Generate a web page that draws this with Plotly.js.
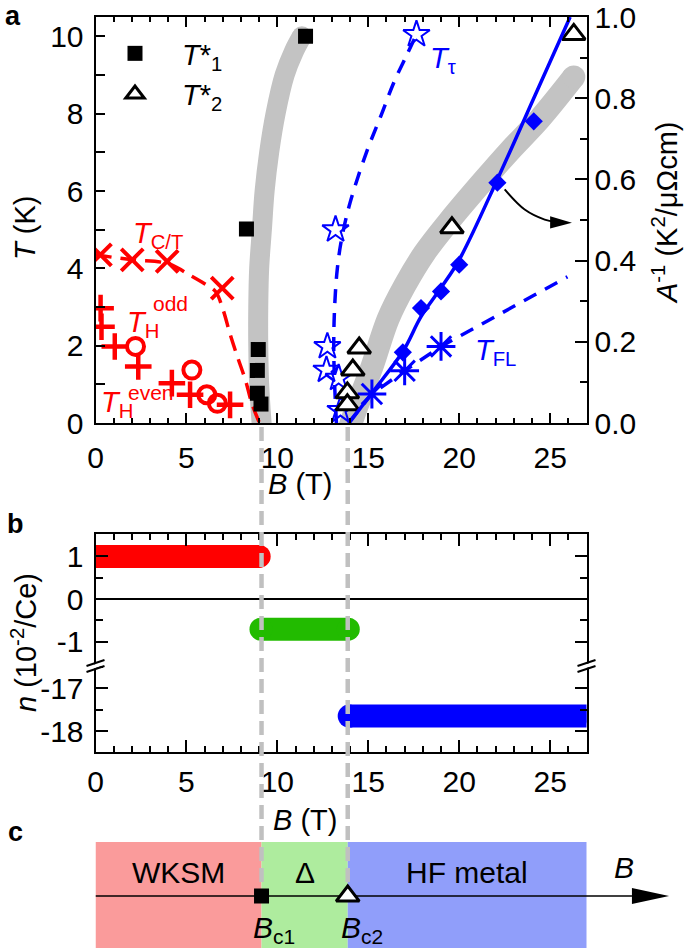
<!DOCTYPE html>
<html><head><meta charset="utf-8">
<script src="https://cdn.plot.ly/plotly-3.0.1.min.js"></script>
<style>html,body{margin:0;padding:0;background:#fff}</style>
</head><body><div id="chart" style="width:685px;height:950px"></div>
<script>
// ---------- DATA ----------
// critical fields (T)
const Bc = [9.13, 13.87];

// panel a : T*1 (squares)
const B_T1 = [11.55, 8.3, 8.95, 8.9, 8.9, 9.1];
const T_T1 = [10.0, 5.02, 1.9, 1.36, 0.77, 0.49];
// panel a : T*2 (open triangles)
const B_T2 = [26.3, 19.6, 14.5, 14.15, 13.85, 13.85];
const T_T2 = [10.05, 5.05, 1.94, 1.37, 0.78, 0.47];
// grey guide bands
const bandT1_B = [9.18, 9.0, 8.95, 8.95, 9.0, 9.15, 9.3, 9.55, 9.9, 10.4, 10.9, 11.35];
const bandT1_T = [-0.3, 1, 2, 3, 4, 5, 6, 7, 8, 9, 9.6, 10.0];
const bandT2_B = [13.85, 14.2, 15.2, 16.1, 17.0, 18.1, 19.5, 21.3, 22.8, 24.4, 26.3];
const bandT2_T = [-0.3, 0.2, 1.45, 2.7, 3.55, 4.4, 5.25, 6.25, 7.05, 7.85, 8.95];
// T_C/T (red x) and dashed guide
const B_CT = [0.27, 2.02, 3.94, 6.97];
const T_CT = [4.35, 4.22, 4.18, 3.49];
const lineCT_B = [0, 2, 4, 5.2, 6.0, 6.6, 7.0, 7.4, 7.8, 8.25, 8.6, 9.0];
const lineCT_T = [4.35, 4.22, 4.12, 3.82, 3.6, 3.4, 2.95, 2.3, 1.72, 1.1, 0.5, 0.02];
// T_H (red + and red o)
const B_Hplus = [0.28, 0.33, 1.06, 2.35, 4.2, 5.2, 7.4];
const T_Hplus = [2.97, 2.49, 1.98, 1.46, 1.03, 0.73, 0.47];
const B_Hcirc = [2.2, 5.3, 6.12, 6.7];
const T_Hcirc = [1.98, 1.37, 0.73, 0.51];
// T_tau (blue stars) and dashed guide
const B_tau = [17.65, 13.2, 12.75, 12.7, 13.37, 13.47];
const T_tau = [10.05, 5.0, 1.98, 1.37, 1.16, 0.33];
const lineTau_B = [13.25, 13.15, 13.1, 13.15, 13.3, 13.55, 14.0, 14.9, 15.7, 16.4, 17.1, 17.55];
const lineTau_T = [0, 1, 2, 3, 4, 4.8, 5.7, 7.0, 7.95, 8.8, 9.5, 9.95];
// T_FL (blue asterisks) and dashed guide
const B_FL = [15.2, 17.0, 19.0];
const T_FL = [0.75, 1.35, 1.98];
const lineFL_B = [13.9, 15.2, 17.0, 19.0, 25.95];
const lineFL_T = [0, 0.75, 1.35, 1.98, 3.78];
// A^-1 (blue diamonds, right axis) and solid guide
const B_A = [16.9, 17.9, 19.0, 20.0, 22.1, 24.1];
const A_inv = [0.174, 0.283, 0.324, 0.39, 0.592, 0.743];
const lineA_B = [13.95, 15.2, 16.9, 17.9, 19.0, 20.0, 22.1, 24.1, 26.1];
const lineA = [0, 0.074, 0.176, 0.262, 0.333, 0.402, 0.6, 0.8, 1.0];
// curved pointer from A^-1 data to right axis
const ptrB = [22.5, 23.6, 24.7, 25.3];
const ptrT = [6.04, 5.52, 5.26, 5.2];
const ptrTip = [26.2, 5.18];

// panel b : carrier density n (10^-2/Ce)
const nWKSM_B = [0, 9.0],  nWKSM = 1.0;
const nDelta_B = [9.1, 13.9], nDelta = -0.71;
const nHF_B = [13.95, 27.5],  nHF = -17.65;

// panel c : phases
const phaseNames = ['WKSM', '\u0394', 'HF metal'];
const phaseEdges = [0, Bc[0], Bc[1], 27];
const phaseColors = ['rgb(250,155,155)', 'rgb(174,236,158)', 'rgb(144,158,250)'];
const arrowEnd = 31.54, arrowBase = 29.5;

// ---------- LAYOUT HELPERS ----------
const W = 685, H = 950;
const px = v => v / W, py = v => 1 - v / H;
const FONT = 'Liberation Sans, Arial, Helvetica, sans-serif';
const GREY = 'rgb(195,195,195)';
const RED = 'rgb(255,0,0)', BLUE = 'rgb(0,0,255)', GREEN = 'rgb(34,187,0)';
const kmPerT = (586.5 - 95.5) / 27;

const traces = [];
function band(xs, ys, w) {
  traces.push({x: xs, y: ys, mode: 'lines', line: {color: GREY, width: w, shape: 'spline'}, showlegend: false, hoverinfo: 'skip'});
  traces.push({x: [xs[0], xs[xs.length-1]], y: [ys[0], ys[ys.length-1]], mode: 'markers',
    marker: {color: GREY, size: w}, showlegend: false, hoverinfo: 'skip'});
}
band(bandT1_B, bandT1_T, 20);
band(bandT2_B, bandT2_T, 23);
traces.push({x: lineCT_B, y: lineCT_T, mode: 'lines', line: {color: RED, width: 3.5, dash: '16px,9px', shape: 'spline'}, showlegend: false});
traces.push({x: B_CT, y: T_CT, mode: 'markers', marker: {symbol: 'x-thin-open', size: 22, color: RED, line: {color: RED, width: 4}}, showlegend: false});
traces.push({x: B_Hplus, y: T_Hplus, mode: 'markers', marker: {symbol: 'cross-thin-open', size: 19, color: RED, line: {color: RED, width: 4.5}}, showlegend: false});
traces.push({x: B_Hcirc, y: T_Hcirc, mode: 'markers', marker: {symbol: 'circle-open', size: 17, color: RED, line: {color: RED, width: 4}}, showlegend: false});
traces.push({x: lineTau_B, y: lineTau_T, mode: 'lines', line: {color: BLUE, width: 3.5, dash: '14px,10px', shape: 'spline'}, showlegend: false});
traces.push({x: B_tau, y: T_tau, mode: 'markers', marker: {symbol: 'star-open', size: 20, color: BLUE, line: {color: BLUE, width: 2}}, showlegend: false});
traces.push({x: lineFL_B, y: lineFL_T, mode: 'lines', line: {color: BLUE, width: 3.5, dash: '14px,10px'}, showlegend: false});
traces.push({x: B_FL, y: T_FL, mode: 'markers', marker: {symbol: 'asterisk-open', size: 24, color: BLUE, line: {color: BLUE, width: 3}}, showlegend: false});
traces.push({x: ptrB, y: ptrT, mode: 'lines', line: {color: 'black', width: 2, shape: 'spline'}, showlegend: false});
traces.push({x: B_T1, y: T_T1, mode: 'markers', name: '<i>T</i>*<sub>1</sub>', legendrank: 1,
  marker: {symbol: 'square', size: 15, color: 'black'}});
traces.push({x: B_T2, y: T_T2, mode: 'markers', name: '<i>T</i>*<sub>2</sub>', legendrank: 2,
  marker: {symbol: 'triangle-up', size: 20, color: 'white', line: {color: 'black', width: 3}}});
traces.push({x: lineA_B, y: lineA, yaxis: 'y5', mode: 'lines', line: {color: BLUE, width: 3.5, shape: 'spline'}, showlegend: false});
traces.push({x: B_A, y: A_inv, yaxis: 'y5', mode: 'markers', marker: {symbol: 'diamond', size: 14, color: BLUE}, showlegend: false});

// panel b bars
function bar(xs, v, col, xa, ya) {
  traces.push({x: xs, y: [v, v], xaxis: xa, yaxis: ya, mode: 'lines+markers',
    line: {color: col, width: 23}, marker: {color: col, size: 23}, showlegend: false, hoverinfo: 'skip'});
}
bar(nWKSM_B, nWKSM, RED, 'x3', 'y2');
bar(nDelta_B, nDelta, GREEN, 'x3', 'y2');
bar(nHF_B, nHF, BLUE, 'x2', 'y3');

// panel c
const lineY = 0.49;
traces.push({x: [0, arrowBase], y: [lineY, lineY], xaxis: 'x4', yaxis: 'y4', mode: 'lines', line: {color: 'black', width: 1.5}, showlegend: false});
traces.push({x: [Bc[0]], y: [lineY], xaxis: 'x4', yaxis: 'y4', mode: 'markers', marker: {symbol: 'square', size: 15, color: 'black'}, showlegend: false});
traces.push({x: [Bc[1]], y: [lineY], xaxis: 'x4', yaxis: 'y4', mode: 'markers', marker: {symbol: 'triangle-up', size: 20, color: 'white', line: {color: 'black', width: 3}}, showlegend: false});

// ---------- SHAPES ----------
const shapes = [];
for (let i = 0; i < 3; i++) {
  shapes.push({type: 'rect', xref: 'x4', yref: 'y4', x0: phaseEdges[i], x1: phaseEdges[i+1], y0: 0, y1: 1,
    fillcolor: phaseColors[i], line: {width: 0}, layer: 'below'});
}
shapes.push({type: 'path', xref: 'x4', yref: 'y4', path: `M${arrowBase},${lineY-0.075} L${arrowEnd},${lineY} L${arrowBase},${lineY+0.075} Z`,
  fillcolor: 'black', line: {width: 0}});
shapes.push({type: 'path', xref: 'x', yref: 'y', path: `M${ptrTip[0]-1.2},${ptrTip[1]+0.17} L${ptrTip[0]},${ptrTip[1]} L${ptrTip[0]-1.2},${ptrTip[1]-0.15} Z`,
  fillcolor: 'black', line: {width: 0}});
Bc.forEach(b => shapes.push({type: 'line', xref: 'x', yref: 'paper', x0: b, x1: b, y0: py(427), y1: py(885),
  line: {color: 'rgb(192,192,192)', width: 4.5, dash: '14px,7px'}, layer: 'above'}));
// axis break marks
[95.5, 586.5].forEach(xc => {
  shapes.push({type: 'path', xref: 'paper', yref: 'paper',
    path: `M${px(xc-9)},${py(667)} L${px(xc+9)},${py(661)} L${px(xc+9)},${py(665)} L${px(xc-9)},${py(671)} Z`,
    fillcolor: 'white', line: {width: 0}});
  shapes.push({type: 'line', xref: 'paper', yref: 'paper', x0: px(xc-9), y0: py(666), x1: px(xc+9), y1: py(660), line: {color: 'black', width: 2}});
  shapes.push({type: 'line', xref: 'paper', yref: 'paper', x0: px(xc-9), y0: py(672), x1: px(xc+9), y1: py(666), line: {color: 'black', width: 2}});
});

// ---------- ANNOTATIONS ----------
const ann = [];
function txt(t, x, y, o) { ann.push(Object.assign({text: t, x: x, y: y, xref: 'paper', yref: 'paper', showarrow: false,
  xanchor: 'center', yanchor: 'middle', font: {size: 29, color: 'black', family: FONT}}, o || {})); }
txt('<b>a</b>', px(13), py(16), {font: {size: 27, family: FONT}});
txt('<b>b</b>', px(15), py(524), {font: {size: 27, family: FONT}});
txt('<b>c</b>', px(15), py(832), {font: {size: 27, family: FONT}});
txt('<i>T</i> (K)', px(25), py(228), {textangle: -90});
txt('<i>A</i><sup>-1</sup> (K<sup>2</sup>/\u03bc\u03a9cm)', px(665), py(213), {textangle: -90});
txt('<i>B</i> (T)', px(300), py(484));
txt('<i>n</i> (10<sup>-2</sup>/Ce)', px(24), py(643), {textangle: -90});
txt('<i>B</i> (T)', px(305), py(820));
function dtxt(t, x, y, col, size, o) { ann.push(Object.assign({text: t, x: x, y: y, xref: 'x', yref: 'y', showarrow: false,
  font: {size: size, color: col, family: FONT}}, o || {})); }
dtxt('<i>T</i><sub>C/T</sub>', 3.44, 4.87, RED, 29);
dtxt('<i>T</i><sub>H</sub>', 2.6, 2.55, RED, 29);
dtxt('odd', 4.1, 3.1, RED, 21);
dtxt('<i>T</i><sub>H</sub>', 1.2, 0.5, RED, 29);
dtxt('even', 3.05, 0.8, RED, 21);
dtxt('<i>T</i><sub>\u03c4</sub>', 19.1, 9.4, BLUE, 29);
dtxt('<i>T</i><sub>FL</sub>', 21.97, 1.84, BLUE, 29);
// panel c labels
function ctxt(t, x, y, o) { ann.push(Object.assign({text: t, x: x, y: y, xref: 'x4', yref: 'y4', showarrow: false,
  font: {size: 30, color: 'black', family: FONT}}, o || {})); }
for (let i = 0; i < 3; i++) ctxt(phaseNames[i], (phaseEdges[i] + phaseEdges[i+1]) / 2, 0.717);
ctxt('<i>B</i>', 29.05, 0.755);
ctxt('<i>B</i><sub>c1</sub>', Bc[0] - 0.6, 0.17, {xanchor: 'left'});
ctxt('<i>B</i><sub>c2</sub>', Bc[1] - 0.5, 0.17, {xanchor: 'left'});

// ---------- AXES ----------
const xdom = [px(95.5), px(586.5)];
const common = {showline: true, linecolor: 'black', linewidth: 2, ticks: 'inside', tickwidth: 2, tickcolor: 'black',
  showgrid: false, zeroline: false, tickfont: {size: 30, family: FONT, color: 'black'}};
const layout = {
  width: W, height: H, margin: {l: 0, r: 0, t: 0, b: 0}, paper_bgcolor: 'white', plot_bgcolor: 'rgba(0,0,0,0)',
  font: {family: FONT, size: 28, color: 'black'},
  showlegend: true,
  legend: {x: px(88), y: py(28), xanchor: 'left', yanchor: 'top', bgcolor: 'rgba(0,0,0,0)', font: {size: 29, family: FONT},
    itemwidth: 84, tracegroupgap: 0, traceorder: 'normal'},
  xaxis: Object.assign({}, common, {domain: xdom, range: [0, 27], anchor: 'y', dtick: 5, tick0: 0, ticklen: 10, mirror: 'ticks', ticklabelstandoff: 7,
    minor: {dtick: 1, ticklen: 5, tickwidth: 2, ticks: 'inside', tickcolor: 'black'}}),
  yaxis: Object.assign({}, common, {domain: [py(423), py(17)], range: [0, 10.5], anchor: 'x', dtick: 2, ticklen: 9, ticklabelstandoff: 4,
    minor: {dtick: 1, ticklen: 9, tickwidth: 2, ticks: 'inside', tickcolor: 'black'}}),
  yaxis5: Object.assign({}, common, {overlaying: 'y', side: 'right', anchor: 'x', range: [0, 1.0], dtick: 0.2, tickformat: '.1f', ticklen: 12,
    minor: {dtick: 0.1, ticklen: 7, tickwidth: 2, ticks: 'inside', tickcolor: 'black'}}),
  xaxis2: Object.assign({}, common, {domain: xdom, range: [0, 27], anchor: 'y3', dtick: 5, tick0: 0, ticklen: 12, ticklabelstandoff: 2,
    minor: {dtick: 1, ticklen: 6, tickwidth: 2, ticks: 'inside', tickcolor: 'black'}}),
  xaxis3: Object.assign({}, common, {domain: xdom, range: [0, 27], anchor: 'y2', side: 'top', dtick: 5, tick0: 0, ticklen: 12, showticklabels: false,
    minor: {dtick: 1, ticklen: 6, tickwidth: 2, ticks: 'inside', tickcolor: 'black'}}),
  yaxis2: Object.assign({}, common, {domain: [py(663.3), py(534.3)], anchor: 'x3', range: [-1.51, 1.52], mirror: 'ticks',
    tickmode: 'array', tickvals: [-1, 0, 1], ticktext: ['-1', '0', '1'], ticklen: 12, ticklabelstandoff: 4,
    zeroline: true, zerolinecolor: 'black', zerolinewidth: 1.5,
    minor: {tickvals: [-1.5, -0.5, 0.5, 1.5], ticklen: 7, tickwidth: 2, ticks: 'inside', tickcolor: 'black'}}),
  yaxis3: Object.assign({}, common, {domain: [py(752.3), py(663.3)], anchor: 'x2', range: [-18.5, -16.41], mirror: 'ticks',
    tickmode: 'array', tickvals: [-18, -17], ticktext: ['-18', '-17'], ticklen: 12, ticklabelstandoff: 4,
    minor: {tickvals: [-18.5, -17.5, -16.5], ticklen: 7, tickwidth: 2, ticks: 'inside', tickcolor: 'black'}}),
  xaxis4: {domain: [px(95.5), 1], range: [0, (685 - 95.5) / kmPerT], anchor: 'y4', visible: false, fixedrange: true},
  yaxis4: {domain: [py(948), py(842)], range: [0, 1], anchor: 'x4', visible: false, fixedrange: true},
  shapes: shapes, annotations: ann
};
Plotly.newPlot('chart', traces, layout, {displayModeBar: false, staticPlot: true});
</script></body></html>
